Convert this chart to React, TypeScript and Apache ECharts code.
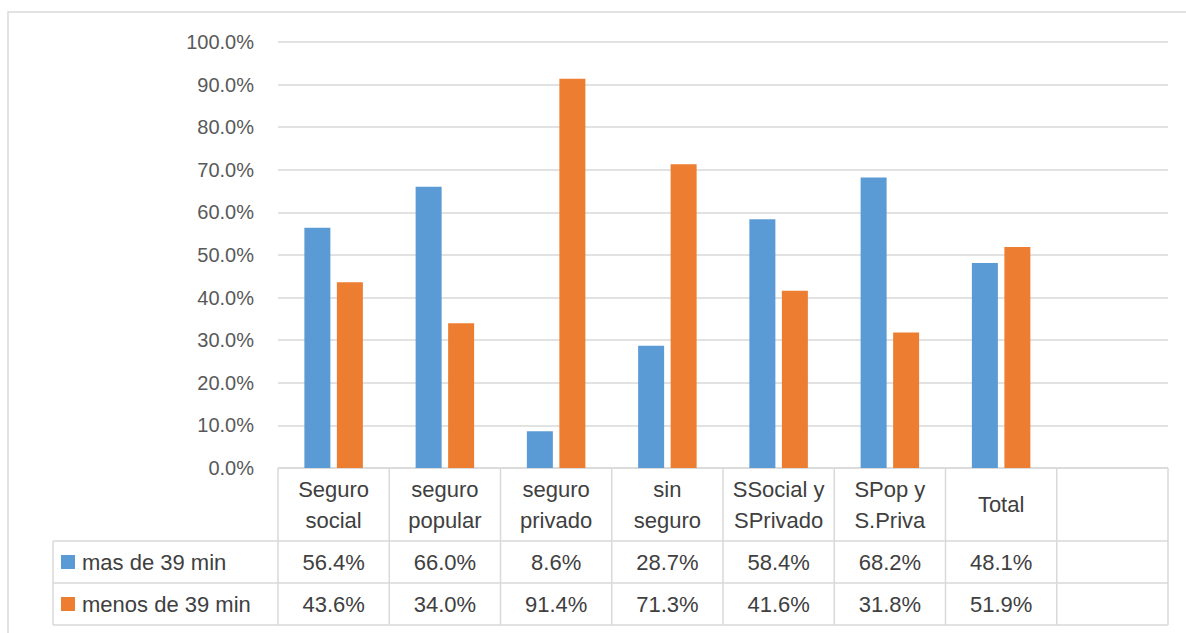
import React, { useEffect, useRef } from "react";
import * as echarts from "echarts";

const categories = ["Seguro\nsocial", "seguro\npopular", "seguro\nprivado", "sin\nseguro", "SSocial y\nSPrivado", "SPop y\nS.Priva", "Total", ""];
const seriesNames = ["mas de 39 min", "menos de 39 min"];
const masDe39 = [56.4, 66.0, 8.6, 28.7, 58.4, 68.2, 48.1, null];
const menosDe39 = [43.6, 34.0, 91.4, 71.3, 41.6, 31.8, 51.9, null];
const yTicks = { min: 0, max: 100, interval: 10 };

const COLORS = ["#5B9BD5", "#ED7D31"];
const W = 1186;
const H = 633;
const GRID = { left: 278, right: 18, top: 42, bottom: 165 };
const FONT = '"Liberation Sans", Arial, sans-serif';
const LINE = "#D9D9D9";
const TXT = "#404040";
const TFS = 22;

export default function App() {
  const ref = useRef<HTMLDivElement>(null);
  useEffect(() => {
    if (!ref.current) return;
    const chart = echarts.init(ref.current, null, { renderer: "svg", width: W, height: H });
    const option: any = {
      animation: false,
      backgroundColor: "#ffffff",
      grid: { ...GRID },
      xAxis: {
        type: "category",
        data: categories,
        axisLine: { show: false },
        axisTick: { show: false },
        axisLabel: { show: false },
      },
      yAxis: {
        type: "value",
        min: yTicks.min,
        max: yTicks.max,
        interval: yTicks.interval,
        axisLine: { show: false },
        axisTick: { show: false },
        axisLabel: {
          formatter: (v: number) => v.toFixed(1) + "%",
          color: "#595959",
          fontSize: 20,
          fontFamily: FONT,
          margin: 24,
        },
        splitLine: { lineStyle: { color: LINE, width: 1.5 } },
      },
      series: [
        { name: seriesNames[0], type: "bar", data: masDe39, barWidth: 26, barGap: "25%", itemStyle: { color: COLORS[0] } },
        { name: seriesNames[1], type: "bar", data: menosDe39, barWidth: 26, barGap: "25%", itemStyle: { color: COLORS[1] } },
      ],
    };
    chart.setOption(option);

    // Data table below the plot
    const x0 = chart.convertToPixel({ gridIndex: 0 } as any, [0, 0]) as number[];
    const yBase = x0[1];
    const plotLeft = GRID.left;
    const plotRight = W - GRID.right;
    const colW = (plotRight - plotLeft) / categories.length;
    const headerBottom = yBase + 73;
    const rowH = 42;
    const tableLeft = 53;
    const rowsBottom = headerBottom + rowH * seriesNames.length;
    const stroke = { stroke: LINE, lineWidth: 1.5 };
    const els: any[] = [];

    els.push({ type: "polyline", shape: { points: [[8, H], [8, 12], [W, 12]] }, style: { ...stroke, fill: null } });
    els.push({ type: "line", shape: { x1: plotLeft, y1: yBase, x2: plotRight, y2: yBase }, style: stroke });
    for (let r = 0; r <= seriesNames.length; r++) {
      const y = headerBottom + r * rowH;
      els.push({ type: "line", shape: { x1: tableLeft, y1: y, x2: plotRight, y2: y }, style: stroke });
    }
    for (let i = 0; i <= categories.length; i++) {
      const x = plotLeft + i * colW;
      els.push({ type: "line", shape: { x1: x, y1: yBase, x2: x, y2: rowsBottom }, style: stroke });
    }
    els.push({ type: "line", shape: { x1: tableLeft, y1: headerBottom, x2: tableLeft, y2: rowsBottom }, style: stroke });

    categories.forEach((c, i) => {
      const cx = chart.convertToPixel({ xAxisIndex: 0 } as any, i) as number;
      els.push({
        type: "text",
        style: {
          text: c, x: cx, y: (yBase + headerBottom) / 2, align: "center", verticalAlign: "middle",
          fontSize: TFS, fontFamily: FONT, fill: TXT, lineHeight: 31,
        },
      });
    });

    const allData = [masDe39, menosDe39];
    seriesNames.forEach((name, r) => {
      const cy = headerBottom + r * rowH + rowH / 2;
      els.push({ type: "rect", shape: { x: 61, y: cy - 7, width: 14, height: 14 }, style: { fill: COLORS[r] } });
      els.push({
        type: "text",
        style: { text: name, x: 82, y: cy, align: "left", verticalAlign: "middle", fontSize: TFS, fontFamily: FONT, fill: TXT },
      });
      allData[r].forEach((v, i) => {
        if (v == null) return;
        const cx = chart.convertToPixel({ xAxisIndex: 0 } as any, i) as number;
        els.push({
          type: "text",
          style: { text: v.toFixed(1) + "%", x: cx, y: cy, align: "center", verticalAlign: "middle", fontSize: TFS, fontFamily: FONT, fill: TXT },
        });
      });
    });

    chart.setOption({ graphic: { elements: els } });
    return () => chart.dispose();
  }, []);
  return <div ref={ref} style={{ position: "absolute", left: 0, top: 0, width: W, height: H }} />;
}
